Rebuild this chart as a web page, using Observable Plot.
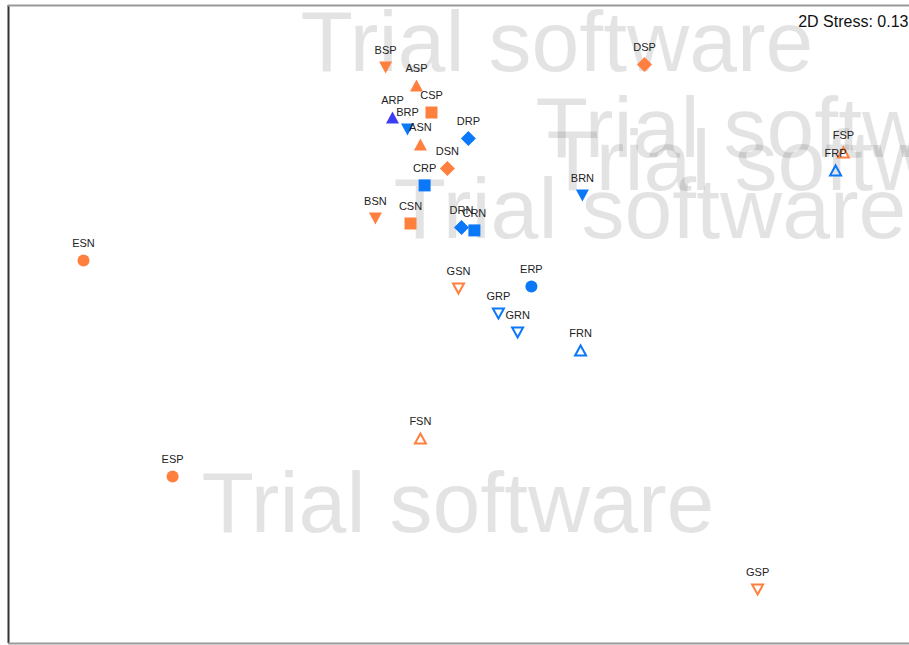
<!DOCTYPE html>
<html>
<head>
<meta charset="utf-8">
<script src="https://cdn.jsdelivr.net/npm/d3@7"></script>
<script src="https://cdn.jsdelivr.net/npm/@observablehq/plot@0.6"></script>
<style>
  html, body { margin: 0; padding: 0; background: #fff; }
  #chart svg { display: block; }
</style>
</head>
<body>
<div id="chart"></div>
<script>
// NMDS site scores
const sites = ["ARP","ASN","ASP","BRN","BRP","BSN","BSP","CRN","CRP","CSN","CSP","DRN","DRP","DSN","DSP","ERP","ESN","ESP","FRN","FRP","FSN","FSP","GRN","GRP","GSN","GSP"];
const nmds1 = [-0.220,-0.127,-0.140,0.413,-0.170,-0.277,-0.243,0.053,-0.113,-0.160,-0.090,0.010,0.033,-0.037,0.620,0.243,-1.250,-0.953,0.407,1.257,-0.127,1.283,0.197,0.133,0.000,0.997];
const nmds2 = [0.673,0.583,0.780,0.413,0.633,0.337,0.840,0.297,0.447,0.320,0.690,0.307,0.603,0.503,0.850,0.110,0.197,-0.523,-0.103,0.497,-0.397,0.557,-0.043,0.020,0.103,-0.900];
const stressLabel = "2D Stress: 0.13";
const watermark = "Trial software";

const xDomain = [-1.5, 1.5033];
const yDomain = [-1.08, 1.0467];

const data = sites.map((s, i) => ({site: s, treat: s[0], type: s[1], x: nmds1[i], y: nmds2[i]}));

const ORANGE = "#ff7f3f", BLUE = "#0a78f8", PURPLE = "#3c3cf5";
const colorOf = d => d.site === "ARP" ? PURPLE : (d.type === "S" ? ORANGE : BLUE);

const triUp = {draw(c){c.moveTo(0,-6);c.lineTo(6.5,6);c.lineTo(-6.5,6);c.closePath();}};
const triDown = {draw(c){c.moveTo(0,6);c.lineTo(6.5,-6);c.lineTo(-6.5,-6);c.closePath();}};
const triUpO = {draw(c){c.moveTo(0,-5);c.lineTo(5.5,5);c.lineTo(-5.5,5);c.closePath();}};
const triDownO = {draw(c){c.moveTo(0,5);c.lineTo(5.5,-5);c.lineTo(-5.5,-5);c.closePath();}};
const square = {draw(c){c.rect(-6,-6,12,12);}};
const diamond = {draw(c){c.moveTo(0,-7.5);c.lineTo(7.5,0);c.lineTo(0,7.5);c.lineTo(-7.5,0);c.closePath();}};
const circle = {draw(c){c.moveTo(6,0);c.arc(0,0,6,0,2*Math.PI);}};

const filledShapes = [["A", triUp], ["D", diamond], ["C", square], ["B", triDown], ["E", circle]];
const openShapes = [["F", triUpO], ["G", triDownO]];

const wmStyle = {text: d => d, frameAnchor: "top-left", textAnchor: "start", lineAnchor: "top",
  fontSize: 86, fill: "#000", fillOpacity: 0.11, letterSpacing: "-2.4px"};
const wmOffsets = [[292, 4], [527, 90], [538, 123], [385, 171], [193, 465]];

const marks = [
  ...wmOffsets.map(([dx, dy]) => Plot.text([watermark], {...wmStyle, dx, dy})),
  ...filledShapes.map(([t, sym]) => Plot.dot(data.filter(d => d.treat === t), {
    x: "x", y: "y", symbol: sym, r: 6, fill: colorOf, stroke: "none"})),
  ...openShapes.map(([t, sym]) => Plot.dot(data.filter(d => d.treat === t), {
    x: "x", y: "y", symbol: sym, r: 6, fill: "none", stroke: colorOf, strokeWidth: 2})),
  Plot.text(data, {x: "x", y: "y", text: "site", dy: -17, fontSize: 11, fill: "#222"}),
  Plot.text([stressLabel], {text: d => d, frameAnchor: "top-right", textAnchor: "end", lineAnchor: "top",
    dx: -1, dy: 10, fontSize: 16, fill: "#111"}),
  Plot.ruleX([xDomain[0]], {stroke: "#333", strokeWidth: 2}),
  Plot.ruleY([yDomain[1]], {stroke: "#999", strokeWidth: 2}),
  Plot.ruleY([yDomain[0]], {stroke: "#999", strokeWidth: 2})
];

const chart = Plot.plot({
  width: 909,
  height: 645,
  marginLeft: 8,
  marginRight: 0,
  marginTop: 5,
  marginBottom: 2,
  style: {background: "#fff", fontFamily: "Arial, 'Liberation Sans', sans-serif"},
  x: {domain: xDomain, axis: null},
  y: {domain: yDomain, axis: null},
  color: {type: "identity"},
  marks
});
document.getElementById("chart").appendChild(chart);
</script>
</body>
</html>
